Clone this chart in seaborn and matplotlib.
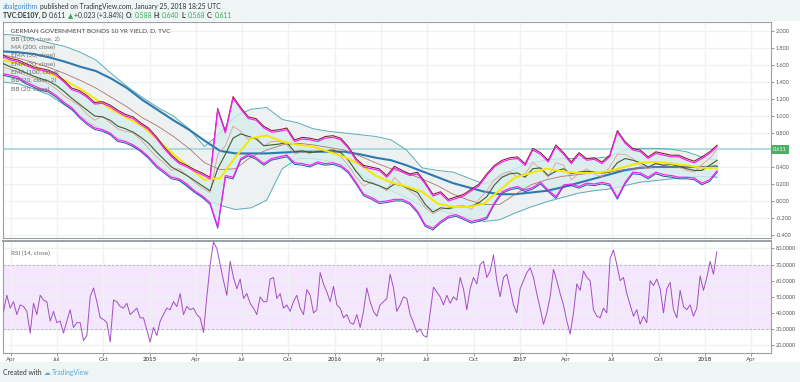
import numpy as np
import pandas as pd
import matplotlib
matplotlib.use("Agg")
import matplotlib.pyplot as plt
from matplotlib.patches import Rectangle
from matplotlib.transforms import offset_copy, blended_transform_factory
from matplotlib.ticker import FuncFormatter
import seaborn as sns

# ---- values --------------------------------------------------------------
# semi-monthly readings, mid Mar 2014 -> 25 Jan 2018
close = [1.58, 1.55, 1.52, 1.48, 1.45, 1.42, 1.38, 1.32, 1.24, 1.18,
         1.12, 1.02, 0.95, 1.00, 0.92, 0.85, 0.82, 0.80, 0.72, 0.62,
         0.52, 0.45, 0.36, 0.38, 0.30, 0.22, 0.15, 0.10, 0.55, 0.65,
         0.88, 0.82, 0.72, 0.75, 0.65, 0.70, 0.70, 0.66, 0.55, 0.58,
         0.56, 0.60, 0.58, 0.62, 0.52, 0.42, 0.28, 0.18, 0.22, 0.18,
         0.12, 0.28, 0.18, 0.12, 0.05, -0.08, -0.15, -0.10, -0.08, -0.06,
         -0.05, -0.10, 0.02, 0.12, 0.25, 0.32, 0.35, 0.28, 0.32, 0.45,
         0.38, 0.28, 0.45, 0.42, 0.25, 0.32, 0.38, 0.32, 0.28, 0.40,
         0.55, 0.55, 0.50, 0.42, 0.38, 0.45, 0.42, 0.45, 0.40, 0.36,
         0.34, 0.43, 0.50, 0.611]
bb20_upper = [1.70, 1.66, 1.64, 1.60, 1.56, 1.54, 1.52, 1.48, 1.40, 1.31,
              1.28, 1.22, 1.14, 1.15, 1.11, 1.05, 1.00, 0.97, 0.90, 0.84,
              0.74, 0.62, 0.52, 0.44, 0.40, 0.35, 0.31, 0.26, 1.07, 0.80,
              1.21, 1.08, 0.97, 0.95, 0.86, 0.81, 0.82, 0.84, 0.70, 0.73,
              0.72, 0.70, 0.74, 0.75, 0.72, 0.62, 0.48, 0.40, 0.38, 0.36,
              0.28, 0.39, 0.34, 0.30, 0.32, 0.20, 0.06, 0.09, 0.00, 0.03,
              0.06, 0.12, 0.18, 0.30, 0.40, 0.46, 0.49, 0.50, 0.42, 0.60,
              0.55, 0.46, 0.64, 0.55, 0.44, 0.55, 0.48, 0.49, 0.44, 0.52,
              0.81, 0.68, 0.60, 0.58, 0.50, 0.56, 0.54, 0.52, 0.52, 0.48,
              0.45, 0.50, 0.56, 0.64]
bb20_lower = [1.50, 1.48, 1.46, 1.40, 1.36, 1.32, 1.30, 1.24, 1.16, 1.10,
              1.00, 0.92, 0.86, 0.84, 0.80, 0.72, 0.70, 0.66, 0.60, 0.52,
              0.42, 0.35, 0.28, 0.26, 0.20, 0.12, 0.06, -0.02, -0.30, 0.30,
              0.28, 0.50, 0.55, 0.51, 0.44, 0.50, 0.52, 0.54, 0.45, 0.44,
              0.42, 0.46, 0.44, 0.45, 0.42, 0.35, 0.22, 0.08, 0.04, -0.01,
              0.00, 0.02, 0.02, -0.02, -0.12, -0.28, -0.32, -0.24, -0.18, -0.16,
              -0.20, -0.24, -0.22, -0.19, -0.02, 0.11, 0.15, 0.17, 0.13, 0.16,
              0.22, 0.13, 0.05, 0.19, 0.20, 0.17, 0.21, 0.20, 0.22, 0.20,
              0.04, 0.22, 0.34, 0.33, 0.28, 0.34, 0.31, 0.30, 0.28, 0.28,
              0.27, 0.21, 0.25, 0.36]
ema20 = [1.62, 1.58, 1.55, 1.51, 1.47, 1.44, 1.41, 1.36, 1.29, 1.21,
         1.14, 1.07, 1.00, 0.99, 0.95, 0.88, 0.85, 0.81, 0.75, 0.68,
         0.58, 0.49, 0.40, 0.35, 0.30, 0.24, 0.18, 0.12, 0.38, 0.55,
         0.74, 0.79, 0.76, 0.73, 0.65, 0.66, 0.67, 0.69, 0.58, 0.59,
         0.57, 0.58, 0.59, 0.60, 0.57, 0.48, 0.35, 0.24, 0.21, 0.18,
         0.14, 0.20, 0.18, 0.14, 0.10, -0.04, -0.13, -0.08, -0.09, -0.07,
         -0.07, -0.06, -0.02, 0.05, 0.19, 0.28, 0.32, 0.33, 0.28, 0.38,
         0.39, 0.30, 0.35, 0.38, 0.32, 0.34, 0.35, 0.34, 0.33, 0.34,
         0.45, 0.50, 0.48, 0.45, 0.40, 0.44, 0.42, 0.43, 0.41, 0.38,
         0.36, 0.36, 0.42, 0.48]

# monthly readings of the smoother lines
bb100_upper = [1.96, 1.95, 1.91, 1.86, 1.82, 1.75, 1.66, 1.50, 1.35, 1.22,
               1.10, 1.00, 0.85, 0.64, 0.80, 1.00, 1.08, 1.10, 0.96, 0.92,
               0.85, 0.82, 0.80, 0.78, 0.76, 0.72, 0.60, 0.39, 0.36, 0.34,
               0.27, 0.20, 0.28, 0.38, 0.45, 0.48, 0.50, 0.50, 0.50, 0.52,
               0.60, 0.62, 0.62, 0.61, 0.58, 0.52, 0.48]
bb100_lower = [1.40, 1.38, 1.32, 1.25, 1.13, 1.00, 0.88, 0.78, 0.70, 0.58,
               0.42, 0.30, 0.15, 0.03, -0.05, -0.10, -0.08, 0.01, 0.38, 0.50,
               0.50, 0.47, 0.42, 0.32, 0.20, 0.12, 0.04, -0.06, -0.11, -0.15,
               -0.20, -0.24, -0.22, -0.14, -0.07, -0.01, 0.04, 0.09, 0.12, 0.14,
               0.18, 0.22, 0.24, 0.26, 0.28, 0.29, 0.28]
ma200 = [1.76, 1.75, 1.73, 1.69, 1.64, 1.58, 1.53, 1.44, 1.33, 1.19,
         1.07, 0.95, 0.84, 0.71, 0.59, 0.56, 0.56, 0.56, 0.57, 0.58,
         0.58, 0.58, 0.58, 0.55, 0.51, 0.48, 0.42, 0.35, 0.28, 0.21,
         0.16, 0.11, 0.08, 0.08, 0.10, 0.12, 0.16, 0.21, 0.26, 0.31,
         0.36, 0.39, 0.40, 0.40, 0.40, 0.40, 0.40]
ema50 = [1.66, 1.62, 1.57, 1.50, 1.42, 1.32, 1.20, 1.08, 0.98, 0.88,
         0.72, 0.55, 0.40, 0.25, 0.27, 0.52, 0.74, 0.77, 0.70, 0.66,
         0.64, 0.58, 0.52, 0.43, 0.30, 0.22, 0.17, 0.11, -0.03, -0.07,
         -0.07, -0.03, 0.13, 0.28, 0.33, 0.38, 0.35, 0.33, 0.33, 0.35,
         0.40, 0.45, 0.46, 0.44, 0.42, 0.39, 0.39]
ema100 = [1.72, 1.68, 1.63, 1.57, 1.50, 1.42, 1.33, 1.22, 1.11, 0.98,
          0.88, 0.76, 0.62, 0.45, 0.37, 0.38, 0.52, 0.60, 0.66, 0.68,
          0.66, 0.63, 0.60, 0.53, 0.45, 0.38, 0.33, 0.26, 0.18, 0.08,
          0.01, -0.04, -0.04, 0.08, 0.19, 0.25, 0.29, 0.31, 0.33, 0.34,
          0.37, 0.39, 0.40, 0.40, 0.40, 0.40, 0.42]

# RSI(14), read roughly every 6-7 days
rsi = [41, 51, 43, 47, 39, 45, 44, 41, 27.5, 46,
       39, 51, 48, 47, 35, 41, 34, 35, 27.5, 35,
       42, 31, 34, 34, 23, 26, 50, 55.5, 47, 37,
       36, 34, 22, 48, 47, 44, 43, 46, 39, 41,
       43, 37, 37, 29.6, 22, 31, 26, 35, 39, 43,
       42, 47, 44, 52, 39, 44, 42, 43, 39, 37,
       28, 50, 70, 84, 80, 70, 60, 51, 72, 62,
       55, 61, 49, 52, 46, 43, 39, 50, 47, 47,
       61, 62, 49, 52, 43, 45, 41, 47, 51, 43,
       39, 54.5, 51, 40, 42, 65, 58, 53, 47, 56.5,
       45, 43, 37, 39, 34, 33, 39, 31, 41, 55.5,
       47, 41, 38, 45, 47, 49, 64, 55.5, 41, 45,
       50, 49, 39, 34, 28, 30, 26, 25, 40,
       56, 53, 50, 45, 51, 46, 50, 48, 62, 55,
       42, 55, 62, 58, 70, 72, 62, 66, 76, 60,
       50, 62, 64, 55, 45, 40, 55, 60, 65, 68,
       62, 52, 43, 33, 40, 50, 67, 60, 52, 45,
       35, 27, 40, 58, 54, 66, 62, 60, 42, 38,
       37, 43, 40, 74, 79, 70, 60, 62, 52, 45,
       38, 42, 33, 38, 34, 60, 57, 61, 55, 40,
       55, 59, 42, 37, 54, 44, 42, 45, 38, 43,
       63, 54, 62, 72, 64, 78]

last_price = 0.611
# 0.600 is hidden behind the last-price tag on the reference
price_ticks = [-0.4, -0.2, 0.0, 0.2, 0.4, 0.8, 1.0, 1.2, 1.4, 1.6, 1.8, 2.0]
rsi_ticks = [20, 30, 40, 50, 60, 70, 80]
legend_rows = ["GERMAN GOVERNMENT BONDS 10 YR YIELD, D, TVC", "BB (100, close, 2)",
               "MA (200, close)", "EMA (50, close)", "EMA (20, close)",
               "EMA (100, close)", "BB (20, close, 2)", "BB (20, close)"]

d_semi = pd.date_range("2014-03-16", "2018-01-25", periods=len(close))
d_month = pd.date_range("2014-03-16", "2018-01-25", periods=len(ma200))
d_rsi = pd.date_range("2014-03-18", "2018-01-24", periods=len(rsi))
q_ticks = pd.date_range("2014-04-01", "2018-04-01", freq="QS")
q_labels = [str(d.year) if d.month == 1 else d.strftime("%b") for d in q_ticks]

# ---- figure ---------------------------------------------------------------
sns.set_theme(style="white")
plt.rcParams["font.family"] = ["Lato", "DejaVu Sans"]

W, H = 800, 382
fig = plt.figure(figsize=(W / 100, H / 100), dpi=100, facecolor="#eef5f5")
fig.add_artist(Rectangle((0, 1 - 362 / H), 1, (362 - 21) / H, transform=fig.transFigure,
                         facecolor="white", edgecolor="none", zorder=0))

ax = fig.add_axes([3 / W, 1 - 238 / H, 768 / W, 216 / H])
ax_rsi = fig.add_axes([3 / W, 1 - 353 / H, 768 / W, 112 / H], sharex=ax)


def line(a, d, y, color, lw, z, **kw):
    sns.lineplot(x=d, y=y, ax=a, color=color, linewidth=lw, zorder=z, legend=False, **kw)


# main pane
ax.fill_between(d_month, bb100_lower, bb100_upper, color="#eef1f1", lw=0, zorder=1)
line(ax, d_month, bb100_upper, "#5aaeb5", 0.7, 2)
line(ax, d_month, bb100_lower, "#5aaeb5", 0.7, 2)
ax.axhline(last_price, color="#a9dad8", lw=1.3, zorder=1.5)
line(ax, d_month, ma200, "#2d7ab3", 1.5, 3)
line(ax, d_month, ema100, "#b0756c", 0.6, 3)
ax.fill_between(d_semi, bb20_lower, bb20_upper, color="#d7eded", alpha=0.8, lw=0, zorder=2.5)
line(ax, d_semi, close, "#e58f8f", 0.5, 4)
line(ax, d_semi, ema20, "#3f5f2f", 0.8, 5)
line(ax, d_month, ema50, "#f4e800", 1.4, 6)
up = offset_copy(ax.transData, fig=fig, x=0, y=1.6, units="dots")
down = offset_copy(ax.transData, fig=fig, x=0, y=-1.6, units="dots")
line(ax, d_semi, bb20_upper, "#7d1f2a", 0.75, 6.5, transform=up)
line(ax, d_semi, bb20_lower, "#2f5d9e", 0.75, 6.5, transform=down)
line(ax, d_semi, bb20_upper, "#ff1aff", 0.85, 7)
line(ax, d_semi, bb20_lower, "#ff1aff", 0.85, 7)

ax.set_xlim(pd.Timestamp("2014-03-17"), pd.Timestamp("2018-05-11"))
ax.set_ylim(-0.435, 2.106)
ax.set_yticks(price_ticks)
ax.yaxis.tick_right()
ax.yaxis.set_major_formatter(FuncFormatter(lambda v, p: f"{v:.3f}"))
ax.tick_params(axis="y", direction="out", length=2, width=0.6, color="#888888",
               labelsize=4, labelcolor="#555555", pad=1.5)
ax.tick_params(axis="x", length=0, labelbottom=False)
ax.set_xticks(q_ticks)
ax.grid(True, color="#eef2f4", lw=1.0)
ax.set_axisbelow(True)
ax.set_xlabel("")
ax.set_ylabel("")

lbl_tr = blended_transform_factory(ax.transAxes, ax.transData)
ax.text(1.003, last_price, f"{last_price:.3f}", transform=lbl_tr, ha="left", va="center",
        fontsize=4, color="white", zorder=20, clip_on=False,
        bbox=dict(boxstyle="square,pad=0.35", fc="#4caf64", ec="none"))

for k, row in enumerate(legend_rows):
    ax.text(8 / 768, 1 - (30.7 + 8.35 * k - 22) / 216, row, transform=ax.transAxes,
            ha="left", va="center", fontsize=4.6, zorder=30,
            color="#444444" if k == 0 else "#6a6a6a")

# RSI pane
ax_rsi.axhspan(30, 70, color="#f4e6fc", lw=0, zorder=0.5)
for lvl in (30, 70):
    ax_rsi.axhline(lvl, color="#b8a6c6", lw=0.6, ls=(0, (3, 2)), zorder=1)
line(ax_rsi, d_rsi, rsi, "#a34fc2", 0.7, 3)
ax_rsi.set_ylim(15.2, 84.6)
ax_rsi.set_yticks(rsi_ticks)
ax_rsi.yaxis.tick_right()
ax_rsi.yaxis.set_major_formatter(FuncFormatter(lambda v, p: f"{v:.4f}"))
ax_rsi.tick_params(axis="y", direction="out", length=2, width=0.6, color="#888888",
                   labelsize=4, labelcolor="#555555", pad=1.5)
ax_rsi.set_xticks(q_ticks)
ax_rsi.set_xticklabels(q_labels)
ax_rsi.tick_params(axis="x", direction="out", length=2, width=0.6, color="#888888",
                   labelsize=4.4, labelcolor="#555555", pad=1, bottom=True)
for t, lab in zip(ax_rsi.get_xticklabels(), q_labels):
    if lab.isdigit():
        t.set_fontweight("bold")
ax_rsi.grid(True, color="#eef2f4", lw=1.0)
ax_rsi.set_axisbelow(True)
ax_rsi.set_xlabel("")
ax_rsi.set_ylabel("")
ax_rsi.text(8 / 768, 0.885, "RSI (14, close)", transform=ax_rsi.transAxes,
            ha="left", va="center", fontsize=4.6, color="#6a6a6a")

for a in (ax, ax_rsi):
    for s in a.spines.values():
        s.set_color("#9aa0a3")
        s.set_linewidth(0.8)
ax_rsi.spines["top"].set_linewidth(1.4)


# header and footer
def chain(parts, x, y):
    prev = fig.text(x, y, parts[0][0], color=parts[0][1], fontweight=parts[0][2],
                    fontsize=4.9, ha="left", va="bottom")
    for txt, col, wt in parts[1:]:
        prev = ax.annotate(txt, xy=(1, 0), xycoords=prev, xytext=(1.2, 0),
                           textcoords="offset points", color=col, fontweight=wt,
                           fontsize=4.9, ha="left", va="bottom", annotation_clip=False)


green = "#3aa757"
dark = "#333333"
chain([("abalgorithm", "#3d8bd4", "normal"),
       ("published on TradingView.com, January 25, 2018 18:25 UTC", dark, "normal")],
      3 / W, 1 - 10 / H)
chain([("TVC:DE10Y, D", dark, "bold"), ("0.611", dark, "normal"), ("▲", green, "normal"),
       ("+0.023 (+3.84%)", dark, "normal"), ("O:", dark, "bold"), ("0.588", green, "normal"),
       ("H:", dark, "bold"), ("0.640", green, "normal"), ("L:", dark, "bold"),
       ("0.568", green, "normal"), ("C:", dark, "bold"), ("0.611", green, "normal")],
      3 / W, 1 - 19 / H)
chain([("Created with", dark, "normal"), ("☁", "#5bb0e0", "normal"),
       ("TradingView", "#58a9dc", "normal")], 3 / W, 1 - 376 / H)

fig.savefig("out.png", dpi=100, facecolor=fig.get_facecolor())
